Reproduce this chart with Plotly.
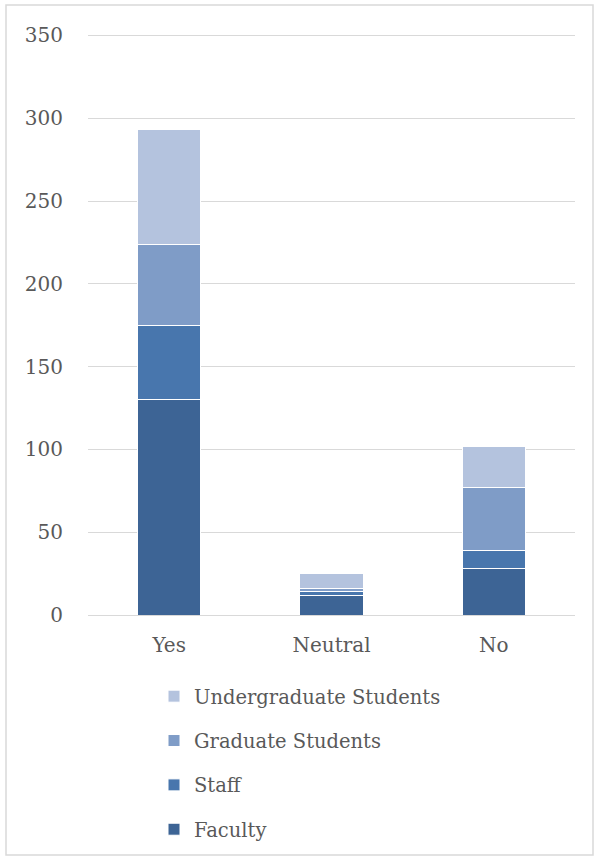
import plotly.graph_objects as go

# responses per category
categories = ["Yes", "Neutral", "No"]
faculty = [130, 12, 28]
staff = [45, 2, 11]
graduate = [49, 2, 38]
undergrad = [69, 9, 25]

series = [
    ("Faculty", faculty, "#3D6495"),
    ("Staff", staff, "#4876AD"),
    ("Graduate Students", graduate, "#7F9CC7"),
    ("Undergraduate Students", undergrad, "#B4C3DE"),
]

font_family = "DejaVu Serif"
text_col = "#595959"

fig = go.Figure()
for i, (name, vals, col) in enumerate(series):
    fig.add_trace(go.Bar(
        x=categories, y=vals, name=name,
        marker=dict(color=col, line=dict(color="white", width=1)),
        legendgroup=str(i), legendrank=len(series) - i,
    ))

W, H = 595, 859
ml, mr, mt, mb = 88, 20, 33, 244
pw, ph = W - ml - mr, H - mt - mb

fig.update_layout(
    width=W, height=H,
    barmode="stack", bargap=0.61,
    margin=dict(l=ml, r=mr, t=mt, b=mb, autoexpand=False),
    plot_bgcolor="white", paper_bgcolor="white",
    font=dict(family=font_family, size=20, color=text_col),
    legend=dict(
        traceorder="grouped", tracegroupgap=16,
        orientation="v", x=(154 - ml) / pw, xanchor="left",
        y=-(677 - (mt + ph)) / ph, yanchor="top",
        font=dict(size=19.5, color=text_col),
        itemwidth=30,
    ),
    showlegend=True,
)
fig.update_yaxes(
    range=[0, 351.5], tickvals=[0, 50, 100, 150, 200, 250, 300, 350],
    showgrid=True, gridcolor="#D9D9D9", gridwidth=1,
    zeroline=True, zerolinecolor="#D9D9D9", zerolinewidth=1,
    showline=False, ticks="", ticklabelstandoff=24,
)
fig.update_xaxes(showline=True, linecolor="#D9D9D9", ticks="", ticklabelstandoff=12)

# outer chart border
fig.add_shape(
    type="rect", xref="paper", yref="paper",
    x0=-(ml - 6) / pw, x1=1 + (mr - 2) / pw,
    y0=-(mb - 4) / ph, y1=1 + (mt - 5) / ph,
    line=dict(color="#D9D9D9", width=1.5), fillcolor="rgba(0,0,0,0)",
)

fig.write_html("out.html", config={"displayModeBar": False},
               post_script="document.body.style.margin='0';")
